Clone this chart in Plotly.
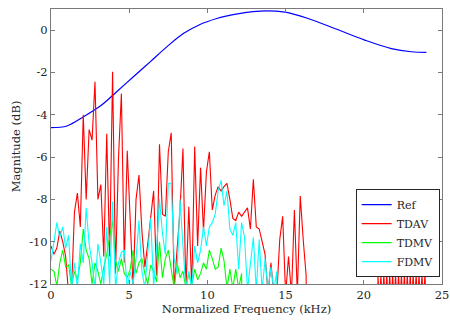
import numpy as np
import plotly.graph_objects as go

# Reference curve
ref_freq = [0, 1.02, 2.08, 3.15, 4.2, 5.27, 6.34, 7.4, 8.46, 9.53, 10.6, 11.12,
            12.4, 13.7, 14.95, 16.44, 18.14, 20.06, 21.76, 23.04, 24.0]
ref_mag = [-4.61, -4.53, -4.09, -3.59, -2.91, -2.2, -1.5, -0.79, -0.16, 0.27, 0.55, 0.65,
           0.83, 0.91, 0.85, 0.55, 0.08, -0.47, -0.87, -1.02, -1.05]

# Frequency bins (kHz)
bin_step = 0.1875

tdav = [-10.2, -10.6, -10.3, -9.5, -10.0, -10.7, -12.5, -12.3, -8.6, -7.7,
        -9.3, -4.0, -8.0, -4.7, -5.2, -2.44, -8.0, -7.3, -10.7, -4.9,
        -10.7, -1.97, -11.5, -6.1, -3.0, -11.0, -5.7, -8.7, -12.2, -8.0,
        -6.85, -9.5, -11.2, -10.1, -8.8, -7.6, -11.6, -5.4, -8.7, -8.8,
        -5.75, -4.85, -12.2, -10.2, -8.5, -5.6, -12.3, -8.35, -12.2, -5.5,
        -10.2, -6.5, -9.5, -6.7, -5.75, -8.5, -7.8, -7.4, -7.6, -7.4,
        -7.24, -8.0, -8.9, -9.0, -8.6, -8.8, -8.6, -8.4, -9.4, -7.05,
        -9.3, -9.4, -10.0, -10.6, -12.5, -11.0, -12.5, -12.5, -9.9, -8.8,
        -12.5, -10.7, -12.5, -8.5, -12.5, -7.84, -9.9, -11.6, -30]

tdav_tail_freq = [20.8125, 20.906, 21.0, 21.094, 21.1875, 21.281, 21.375, 21.469, 21.5625,
                  21.656, 21.75, 21.844, 21.9375, 22.031, 22.125, 22.219, 22.3125, 22.406,
                  22.5, 22.594, 22.6875, 22.781, 22.875, 22.969, 23.0625, 23.156, 23.25,
                  23.344, 23.4375, 23.531, 23.625, 23.719, 23.8125, 23.906, 24.0]
tdav_tail = [-30, -11.6, -13, -11.6, -13, -11.55, -13, -11.55, -13, -11.55, -13, -11.55,
             -13, -11.55, -13, -11.55, -13, -11.55, -13, -11.55, -13, -11.55, -13, -11.55,
             -13, -11.55, -13, -11.55, -13, -11.55, -13, -11.55, -13, -11.55, -13]

tdmv = [-11.3, -11.4, -12.1, -11.0, -10.4, -11.2, -11.1, -12.1, -11.4, -11.8,
        -11.0, -9.4, -10.4, -10.8, -12.0, -11.0, -11.4, -12.0, -11.2, -10.6,
        -9.8, -9.0, -10.9, -11.4, -10.8, -11.5, -11.7, -11.3, -10.4, -11.5,
        -11.0, -10.8, -11.5, -12.0, -11.1, -11.4, -11.9, -10.0, -11.7, -10.8,
        -10.4, -11.3, -12.2, -11.0, -11.7, -11.4, -12.2, -11.5, -12.1, -11.3,
        -11.8, -11.5, -11.0, -11.3, -10.4, -10.8, -11.3, -11.2, -10.3, -10.9,
        -12.2, -11.3, -12.2, -11.3, -12.2, -11.5, -30]

fdmv = [-10.9, -10.1, -9.1, -9.8, -9.3, -10.3, -9.7, -12.2, -11.0, -12.2,
        -10.1, -11.0, -8.4, -10.1, -11.0, -12.2, -10.1, -11.0, -12.0, -9.3,
        -12.0, -8.1, -12.2, -11.0, -10.5, -10.4, -12.2, -11.4, -12.0, -10.8,
        -9.0, -11.4, -12.2, -10.5, -8.9, -12.1, -10.4, -8.0, -9.6, -10.6,
        -7.24, -7.24, -10.8, -11.5, -8.0, -10.2, -12.2, -11.4, -12.2, -10.2,
        -11.0, -10.4, -9.3, -10.2, -9.3, -9.1, -8.7, -7.6, -7.1, -8.3,
        -7.6, -9.4, -9.7, -9.1, -11.3, -9.1, -9.8, -12.3, -11.0, -9.8,
        -12.3, -9.9, -12.3, -10.8, -12.3, -11.2, -12.3, -11.4, -30]

x_ticks = [0, 5, 10, 15, 20, 25]
y_ticks = [-12, -10, -8, -6, -4, -2, 0]


def bins(n):
    return [round(i * bin_step, 5) for i in range(n)]


fig = go.Figure()
fig.add_trace(go.Scatter(x=ref_freq, y=ref_mag, mode="lines", name="Ref",
                         line=dict(color="#0000ff", width=1.2, shape="spline")))
fig.add_trace(go.Scatter(x=bins(len(tdav)) + tdav_tail_freq, y=tdav + tdav_tail,
                         mode="lines", name="TDAV", line=dict(color="#ff0000", width=1.1)))
fig.add_trace(go.Scatter(x=bins(len(tdmv)), y=tdmv, mode="lines", name="TDMV",
                         line=dict(color="#00ff00", width=1.1)))
fig.add_trace(go.Scatter(x=bins(len(fdmv)), y=fdmv, mode="lines", name="FDMV",
                         line=dict(color="#00ffff", width=1.1)))

font = "DejaVu Serif"
axcol = "#7a7a7a"
fig.update_layout(
    width=450, height=325,
    margin=dict(l=51, r=8, t=9, b=41, autoexpand=False),
    paper_bgcolor="white", plot_bgcolor="white",
    font=dict(family=font, size=11.5, color="#262626"),
    showlegend=True,
    legend=dict(x=0.994, y=0.025, xanchor="right", yanchor="bottom",
                bgcolor="white", bordercolor="#262626", borderwidth=1,
                font=dict(family=font, size=11, color="#262626"),
                tracegroupgap=0, itemwidth=30),
)
fig.update_xaxes(range=[0, 25], tickvals=x_ticks, ticktext=[str(v) for v in x_ticks],
                 showgrid=False, zeroline=False, showline=True, linecolor=axcol,
                 linewidth=1, mirror="ticks", ticks="inside", ticklen=4, tickcolor=axcol,
                 automargin=False,
                 title=dict(text="Normalized Frequency (kHz)", standoff=3,
                            font=dict(family=font, size=11.5)))
fig.update_yaxes(range=[-12, 1], tickvals=y_ticks, ticktext=[str(v) for v in y_ticks],
                 showgrid=False, zeroline=False, showline=True, linecolor=axcol,
                 linewidth=1, mirror="ticks", ticks="inside", ticklen=4, tickcolor=axcol,
                 automargin=False,
                 title=dict(text="Magnitude (dB)", standoff=6,
                            font=dict(family=font, size=11.5)))

fig.write_html("out.html", config={"displayModeBar": False},
               post_script="document.body.style.margin='0';document.body.style.padding='0';")
